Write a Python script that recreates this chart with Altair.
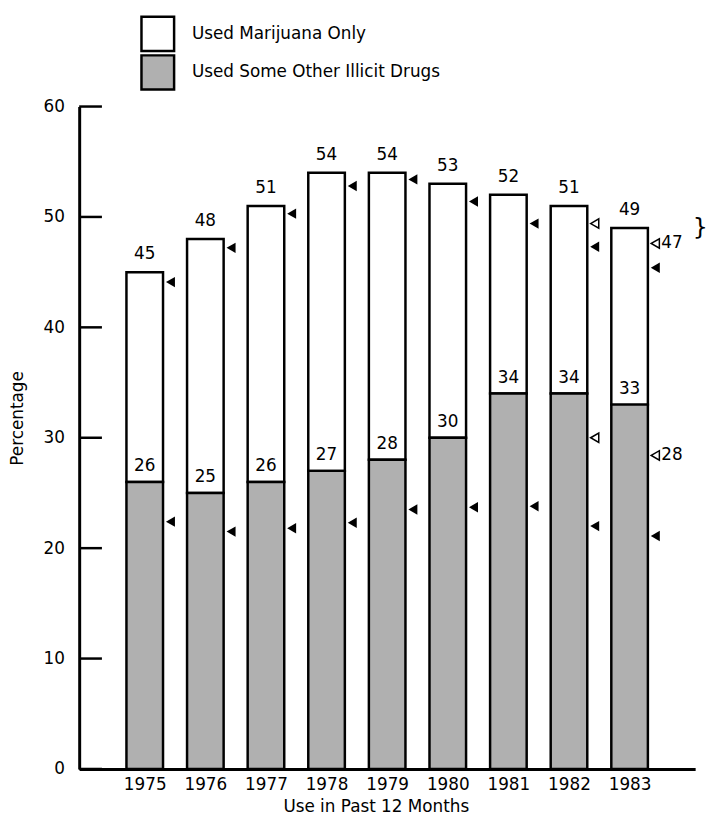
import altair as alt
import pandas as pd

FONT = "DejaVu Sans"

years = [1975, 1976, 1977, 1978, 1979, 1980, 1981, 1982, 1983]
any_illicit = [45, 48, 51, 54, 54, 53, 52, 51, 49]
other_illicit = [26, 25, 26, 27, 28, 30, 34, 34, 33]
upper_marker = [44.1, 47.2, 50.3, 52.8, 53.4, 51.4, 49.4, 47.3, 45.4]
lower_marker = [22.4, 21.5, 21.8, 22.3, 23.5, 23.7, 23.8, 22.0, 21.1]
open_marker_years = [1982, 1982, 1983, 1983]
open_marker_values = [49.4, 30.0, 47.6, 28.4]
note_years = [1983, 1983]
note_values = [47.6, 28.4]
note_texts = ["47", "28"]
brace_years = [1983]
brace_values = [49.0]
brace_texts = ["}"]
series_names = ["Used Marijuana Only", "Used Some Other Illicit Drugs"]
y_ticks = [0, 10, 20, 30, 40, 50, 60]

rows = []
for y, t, o in zip(years, any_illicit, other_illicit):
    rows.append({"year": y, "series": series_names[0], "lo": o, "hi": t})
    rows.append({"year": y, "series": series_names[1], "lo": 0, "hi": o})
bars_df = pd.DataFrame(rows)
vals_df = pd.DataFrame({"year": years, "total": any_illicit, "other": other_illicit,
                        "up": upper_marker, "low": lower_marker})
open_df = pd.DataFrame({"year": open_marker_years, "v": open_marker_values})
note_df = pd.DataFrame({"year": note_years, "v": note_values, "t": note_texts})
brace_df = pd.DataFrame({"year": brace_years, "v": brace_values, "t": brace_texts})
tick_df = pd.DataFrame({"v": y_ticks})

xscale = alt.Scale(domain=[1974, 1984], nice=False, zero=False)
yscale = alt.Scale(domain=[0, 60], nice=False)

bars = alt.Chart(bars_df).mark_bar(size=37, stroke="black", strokeWidth=2.5, opacity=1).encode(
    x=alt.X("year:Q", scale=xscale,
            axis=alt.Axis(values=years, format="d", title="Use in Past 12 Months",
                          labelPadding=8, titleX=300, titleY=38,
                          titleBaseline="middle", titleAlign="center")),
    y=alt.Y("lo:Q", scale=yscale,
            axis=alt.Axis(values=y_ticks, title="Percentage", labelPadding=15,
                          titleX=-62, titleY=315, titleAngle=270,
                          titleAlign="center", titleBaseline="middle")),
    y2="hi:Q",
    color=alt.Color("series:N",
                    scale=alt.Scale(domain=series_names, range=["white", "#b0b0b0"]),
                    legend=alt.Legend(title=None, orient="none", legendX=63, legendY=-90,
                                      symbolType="M-1.1,-1.15H1.1V1.15H-1.1Z", symbolSize=900,
                                      symbolStrokeColor="black", symbolStrokeWidth=2.5,
                                      symbolOpacity=1, labelLimit=500,
                                      labelFontSize=17, labelFont=FONT, labelColor="black",
                                      labelOffset=18, rowPadding=-22, padding=0)),
)

ticks = alt.Chart(tick_df).mark_rule(color="black", strokeWidth=2.5).encode(
    y=alt.Y("v:Q", scale=yscale), x=alt.value(0), x2=alt.value(23))

total_txt = alt.Chart(vals_df).mark_text(baseline="bottom", dy=-9, fontSize=17, font=FONT,
                                         color="black").encode(
    x=alt.X("year:Q", scale=xscale), y=alt.Y("total:Q", scale=yscale), text="total:Q")
other_txt = alt.Chart(vals_df).mark_text(baseline="bottom", dy=-7, fontSize=17, font=FONT,
                                         color="black").encode(
    x=alt.X("year:Q", scale=xscale), y=alt.Y("other:Q", scale=yscale), text="other:Q")

up_mk = alt.Chart(vals_df).mark_point(shape="triangle-left", filled=True, color="black",
                                      size=110, xOffset=26, opacity=1).encode(
    x=alt.X("year:Q", scale=xscale), y=alt.Y("up:Q", scale=yscale))
low_mk = alt.Chart(vals_df).mark_point(shape="triangle-left", filled=True, color="black",
                                       size=110, xOffset=26, opacity=1).encode(
    x=alt.X("year:Q", scale=xscale), y=alt.Y("low:Q", scale=yscale))
open_mk = alt.Chart(open_df).mark_point(shape="triangle-left", filled=True, fill="white",
                                        stroke="black", strokeWidth=1.5, size=90,
                                        xOffset=26, opacity=1).encode(
    x=alt.X("year:Q", scale=xscale), y=alt.Y("v:Q", scale=yscale))
notes = alt.Chart(note_df).mark_text(align="left", baseline="middle", dx=32, fontSize=17,
                                     font=FONT, color="black").encode(
    x=alt.X("year:Q", scale=xscale), y=alt.Y("v:Q", scale=yscale), text="t:N")
brace = alt.Chart(brace_df).mark_text(align="left", baseline="middle", dx=64, fontSize=24,
                                      font=FONT, color="black").encode(
    x=alt.X("year:Q", scale=xscale), y=alt.Y("v:Q", scale=yscale), text="t:N")

chart = alt.layer(bars, ticks, total_txt, other_txt, up_mk, low_mk, open_mk, notes, brace).properties(
    width=623, height=670, autosize="none", background="white",
    padding={"left": 72, "top": 95, "right": 13, "bottom": 51},
).configure_axis(
    domainColor="black", domainWidth=3, labelColor="black", labelFont=FONT, labelFontSize=17,
    grid=False, ticks=False, titleFont=FONT, titleFontSize=17, titleColor="black",
    titleFontWeight="normal",
).configure_view(strokeWidth=0)

chart.save("out.html", embed_options={"renderer": "svg", "actions": False})
